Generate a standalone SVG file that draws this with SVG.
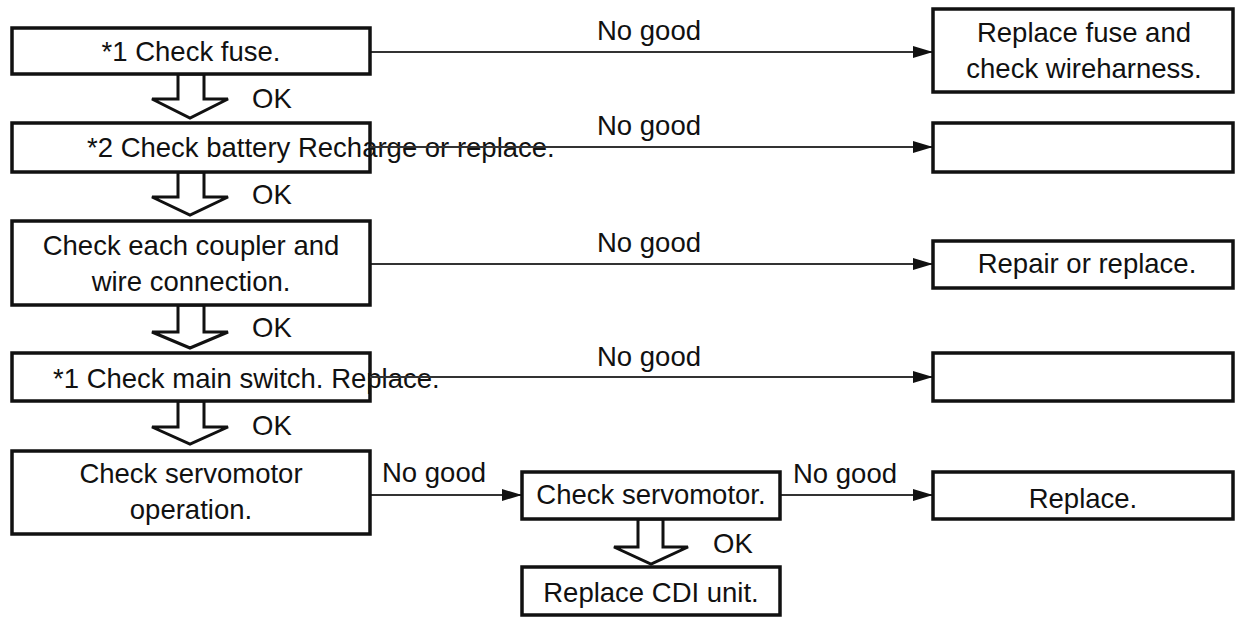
<svg xmlns="http://www.w3.org/2000/svg" width="1240" height="620" viewBox="0 0 1240 620">
<defs>
<style>
.box{fill:#fff;stroke:#111;stroke-width:3.5}
.t{font-family:"Liberation Sans",Arial,sans-serif;font-size:27.5px;fill:#111}
.m{text-anchor:middle}
.ln{stroke:#333;stroke-width:2;fill:none;marker-end:url(#ah)}
.blk{fill:#fff;stroke:#111;stroke-width:3;stroke-linejoin:miter}
</style>
<marker id="ah" markerWidth="20" markerHeight="12" refX="20" refY="6" orient="auto" markerUnits="userSpaceOnUse">
<path d="M0,0 L20,6 L0,12 Z" fill="#111"/>
</marker>
</defs>
<rect width="1240" height="620" fill="#fff"/>

<g id="connectors">
<line class="ln" x1="370" y1="52" x2="933" y2="52"/>
<line class="ln" x1="370" y1="147" x2="933" y2="147"/>
<line class="ln" x1="370" y1="264" x2="933" y2="264"/>
<line class="ln" x1="370" y1="377" x2="933" y2="377"/>
<line class="ln" x1="370" y1="495" x2="522" y2="495"/>
<line class="ln" x1="780" y1="495" x2="933" y2="495"/>
<polygon class="blk" points="178,74 178,99 152,99 190,118 228,99 204,99 204,74"/>
<polygon class="blk" points="178,172 178,197 152,197 190,215 228,197 204,197 204,172"/>
<polygon class="blk" points="178,305 178,332 152,332 190,348 228,332 204,332 204,305"/>
<polygon class="blk" points="178,401 178,427 152,427 190,444 228,427 204,427 204,401"/>
<polygon class="blk" points="638,519 638,547 614,547 651,564 688,547 663,547 663,519"/>
<text class="t" x="597" y="40">No good</text>
<text class="t" x="597" y="135">No good</text>
<text class="t" x="597" y="252">No good</text>
<text class="t" x="597" y="366">No good</text>
<text class="t" x="382" y="482">No good</text>
<text class="t" x="793" y="483">No good</text>
<text class="t" x="252" y="108">OK</text>
<text class="t" x="252" y="204">OK</text>
<text class="t" x="252" y="337">OK</text>
<text class="t" x="252" y="435">OK</text>
<text class="t" x="713" y="553">OK</text>
</g>

<g id="n1"><rect class="box" x="12" y="28" width="358" height="46"/><text class="t m" x="191" y="61">*1 Check fuse.</text></g>
<g id="n2"><rect class="box" x="12" y="123" width="358" height="49"/></g>
<g id="n3"><rect class="box" x="12" y="221" width="358" height="84"/><text class="t m" x="191" y="255">Check each coupler and</text><text class="t m" x="191" y="291">wire connection.</text></g>
<g id="n4"><rect class="box" x="12" y="353" width="358" height="48"/></g>
<g id="n5"><rect class="box" x="12" y="451" width="358" height="83"/><text class="t m" x="191" y="483">Check servomotor</text><text class="t m" x="191" y="519">operation.</text></g>
<g id="r1"><rect class="box" x="933" y="9" width="300" height="83"/><text class="t m" x="1084" y="42">Replace fuse and</text><text class="t m" x="1084" y="78">check wireharness.</text></g>
<g id="r2"><rect class="box" x="933" y="123" width="300" height="49"/></g>
<g id="r3"><rect class="box" x="933" y="241" width="300" height="47"/><text class="t m" x="1087" y="273">Repair or replace.</text></g>
<g id="r4"><rect class="box" x="933" y="353" width="300" height="48"/></g>
<g id="s1"><rect class="box" x="522" y="472" width="258" height="47"/><text class="t m" x="651" y="504">Check servomotor.</text></g>
<g id="r5"><rect class="box" x="933" y="472" width="300" height="47"/><text class="t m" x="1083" y="508">Replace.</text></g>
<g id="s2"><rect class="box" x="522" y="567" width="258" height="48"/><text class="t m" x="651" y="602">Replace CDI unit.</text></g>

<g id="overflow-text">
<text class="t" x="87" y="157">*2 Check battery Recharge or replace.</text>
<text class="t" x="53" y="388">*1 Check main switch. Replace.</text>
</g>
<g id="over-lines">
<line stroke="#333" stroke-width="2" x1="370" y1="147" x2="560" y2="147"/>
<line stroke="#333" stroke-width="2" x1="370" y1="377" x2="460" y2="377"/>
</g>
</svg>
